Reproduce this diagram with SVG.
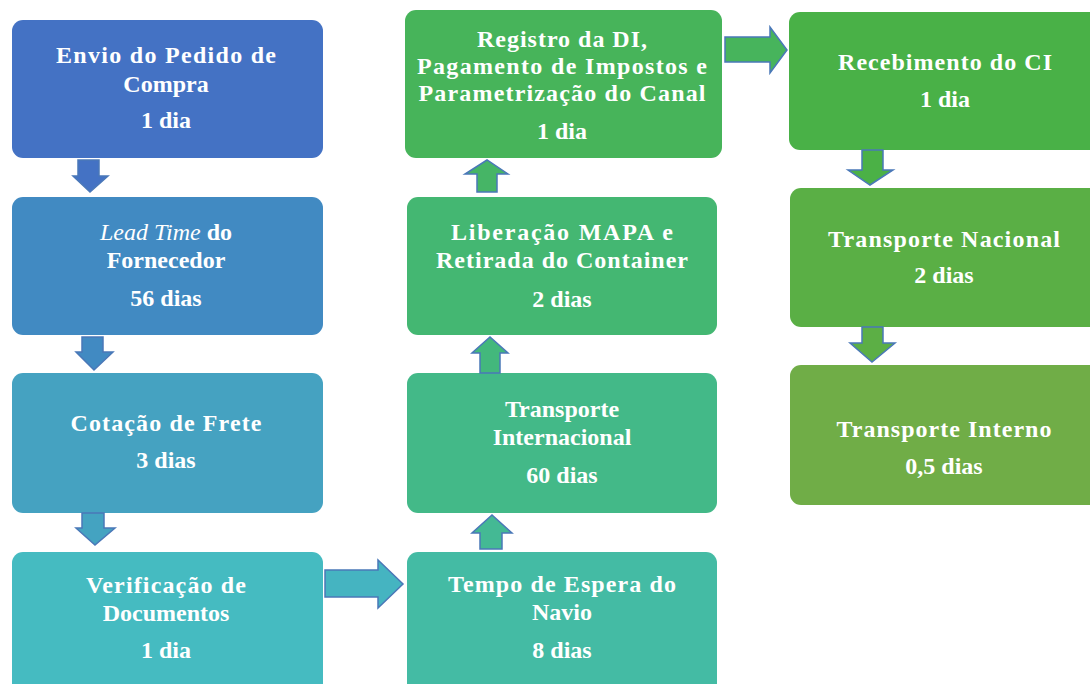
<svg xmlns="http://www.w3.org/2000/svg" width="1090" height="684" viewBox="0 0 1090 684">
<style>
text{font-family:'Liberation Serif','DejaVu Serif','Times New Roman',Times,serif;font-weight:700;font-size:24px;fill:#ffffff;text-anchor:middle}
.i{font-style:italic;font-weight:400}
.a{stroke:#4A78B8;stroke-width:1.5;stroke-linejoin:miter}
</style>
<rect width="1090" height="684" fill="#ffffff"/>
<g id="n1"><rect x="12" y="20" width="311" height="138" rx="11" fill="#4472C4"/>
<text x="166" y="63" textLength="220" lengthAdjust="spacing">Envio do Pedido de</text>
<text x="166" y="92">Compra</text>
<text x="166" y="128">1 dia</text></g>
<g id="n2"><rect x="12" y="197" width="311" height="138" rx="11" fill="#418AC2"/>
<text x="166" y="240"><tspan class="i">Lead Time</tspan> do</text>
<text x="166" y="268">Fornecedor</text>
<text x="166" y="306">56 dias</text></g>
<g id="n3"><rect x="12" y="373" width="311" height="140" rx="11" fill="#45A2C1"/>
<text x="166" y="431" textLength="191" lengthAdjust="spacing">Cotação de Frete</text>
<text x="166" y="468">3 dias</text></g>
<g id="n4"><rect x="12" y="552" width="311" height="150" rx="11" fill="#45BBC1"/>
<text x="166" y="593" textLength="160" lengthAdjust="spacing">Verificação de</text>
<text x="166" y="621">Documentos</text>
<text x="166" y="658">1 dia</text></g>
<g id="n5"><rect x="407" y="552" width="310" height="150" rx="11" fill="#44BBA4"/>
<text x="562" y="592" textLength="228" lengthAdjust="spacing">Tempo de Espera do</text>
<text x="562" y="620">Navio</text>
<text x="562" y="658">8 dias</text></g>
<g id="n6"><rect x="407" y="373" width="310" height="140" rx="11" fill="#43B988"/>
<text x="562" y="417">Transporte</text>
<text x="562" y="445">Internacional</text>
<text x="562" y="483">60 dias</text></g>
<g id="n7"><rect x="407" y="197" width="310" height="138" rx="11" fill="#44B772"/>
<text x="562" y="240" textLength="222" lengthAdjust="spacing">Liberação MAPA e</text>
<text x="562" y="268" textLength="252" lengthAdjust="spacing">Retirada do Container</text>
<text x="562" y="307">2 dias</text></g>
<g id="n8"><rect x="405" y="10" width="317" height="148" rx="11" fill="#47B45A"/>
<text x="562" y="47" textLength="170" lengthAdjust="spacing">Registro da DI,</text>
<text x="562" y="74" textLength="290" lengthAdjust="spacing">Pagamento de Impostos e</text>
<text x="562" y="101" textLength="287" lengthAdjust="spacing">Parametrização do Canal</text>
<text x="562" y="139">1 dia</text></g>
<g id="n9"><rect x="789" y="12" width="315" height="138" rx="11" fill="#49B147"/>
<text x="945" y="70" textLength="214" lengthAdjust="spacing">Recebimento do CI</text>
<text x="945" y="107">1 dia</text></g>
<g id="n10"><rect x="790" y="188" width="314" height="139" rx="11" fill="#5AAF45"/>
<text x="944" y="247" textLength="232" lengthAdjust="spacing">Transporte Nacional</text>
<text x="944" y="283">2 dias</text></g>
<g id="n11"><rect x="790" y="365" width="314" height="140" rx="11" fill="#70AD47"/>
<text x="944" y="437" textLength="215" lengthAdjust="spacing">Transporte Interno</text>
<text x="944" y="474">0,5 dias</text></g>
<g id="connectors">
<path class="a" d="M78,160 H99 V176 H108 L90,192 L73,176 H78 Z" fill="#4472C4" stroke="#7F8A99"/>
<path class="a" d="M82,337 H103 V352 H113 L94,370 L76,352 H82 Z" fill="#418AC2"/>
<path class="a" d="M82,513 H104 V528 H115 L95,545 L76,528 H82 Z" fill="#44A3C1"/>
<path class="a" d="M325,570 H378 V560 L403,584 L378,608 V597 H325 Z" fill="#45B4C1"/>
<path class="a" d="M480,549 H502 V533 H512 L492,515 L472,533 H480 Z" fill="#44B994"/>
<path class="a" d="M480,373 H500 V353 H508 L490,337 L472,353 H480 Z" fill="#43B87C"/>
<path class="a" d="M477,192 H497 V174 H508 L487,160 L465,174 H477 Z" fill="#46B566"/>
<path class="a" d="M725,37 H770 V27 L787,50 L770,73 V62 H725 Z" fill="#47B45C"/>
<path class="a" d="M862,150 H883 V170 H893 L870,185 L848,170 H862 Z" fill="#4BB146"/>
<path class="a" d="M862,327 H883 V343 H895 L872,362 L850,343 H862 Z" fill="#5CAF45"/>
</g>
</svg>
